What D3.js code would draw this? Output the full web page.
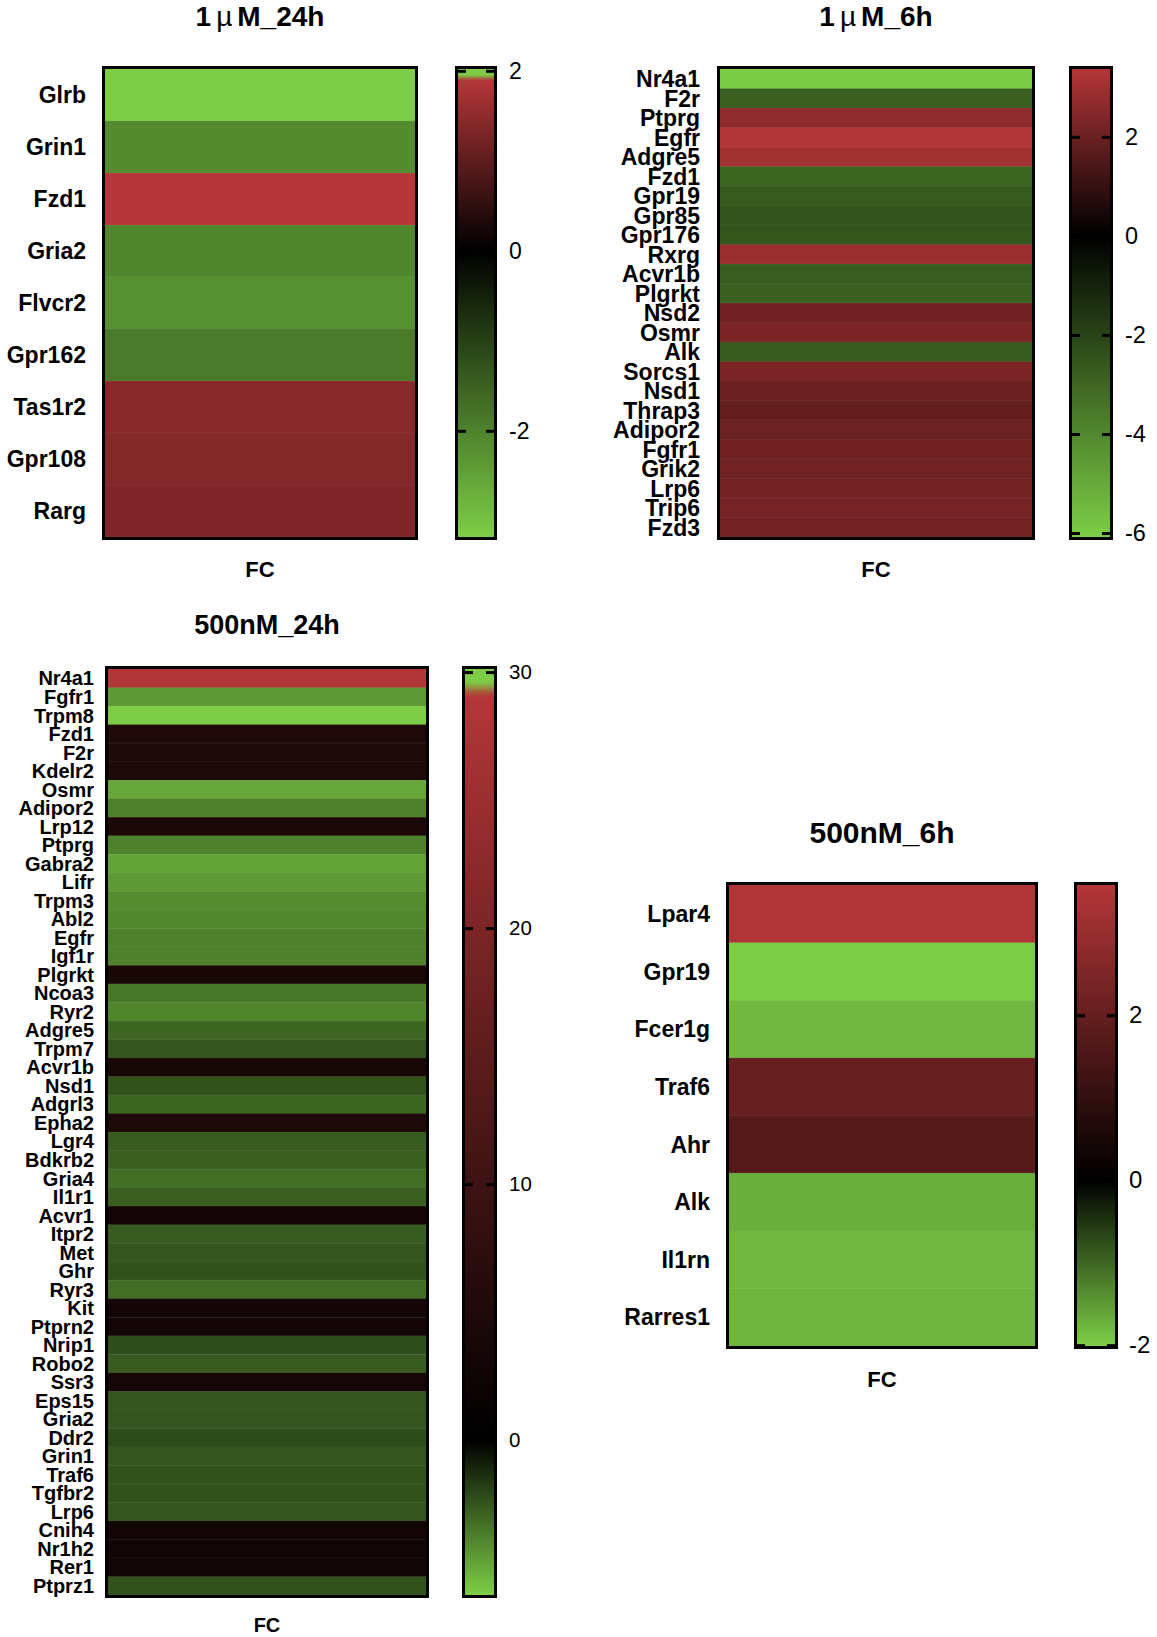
<!DOCTYPE html>
<html>
<head>
<meta charset="utf-8">
<script src="https://cdn.jsdelivr.net/npm/d3@7"></script>
<style>
  html, body { margin: 0; padding: 0; background: #fff; }
  svg { display: block; }
  text { font-family: Arial, "Liberation Sans", Helvetica, sans-serif; fill: #000; }
</style>
</head>
<body>
<svg id="chart" width="1157" height="1637"></svg>
<script>
// ---------------- DATA ----------------
const titles = ["1\u00b5M_24h", "1\u00b5M_6h", "500nM_24h", "500nM_6h"];

const genes1 = ["Glrb", "Grin1", "Fzd1", "Gria2", "Flvcr2", "Gpr162", "Tas1r2", "Gpr108", "Rarg"];
const fc1    = [-3.15, -2.15, 1.9, -2.07, -2.22, -1.9, 1.46, 1.39, 1.35];
const ticks1 = [2, 0, -2];

const genes2 = ["Nr4a1", "F2r", "Ptprg", "Egfr", "Adgre5", "Fzd1", "Gpr19", "Gpr85", "Gpr176", "Rxrg",
                "Acvr1b", "Plgrkt", "Nsd2", "Osmr", "Alk", "Sorcs1", "Nsd1", "Thrap3", "Adipor2", "Fgfr1",
                "Grik2", "Lrp6", "Trip6", "Fzd3"];
const fc2    = [-6.0, -2.8, 2.67, 3.3, 3.03, -3.0, -2.67, -2.5, -2.55, 2.9,
                -2.75, -2.85, 2.09, 2.3, -2.67, 2.3, 2.0, 1.9, 2.03, 2.07,
                2.11, 2.15, 2.2, 2.15];
const ticks2 = [2, 0, -2, -4, -6];

const genes3 = ["Nr4a1", "Fgfr1", "Trpm8", "Fzd1", "F2r", "Kdelr2", "Osmr", "Adipor2", "Lrp12", "Ptprg",
                "Gabra2", "Lifr", "Trpm3", "Abl2", "Egfr", "Igf1r", "Plgrkt", "Ncoa3", "Ryr2", "Adgre5",
                "Trpm7", "Acvr1b", "Nsd1", "Adgrl3", "Epha2", "Lgr4", "Bdkrb2", "Gria4", "Il1r1", "Acvr1",
                "Itpr2", "Met", "Ghr", "Ryr3", "Kit", "Ptprn2", "Nrip1", "Robo2", "Ssr3", "Eps15",
                "Gria2", "Ddr2", "Grin1", "Traf6", "Tgfbr2", "Lrp6", "Cnih4", "Nr1h2", "Rer1", "Ptprz1"];
const fc3    = [28.8, -4.5, -6.0, 5.0, 4.8, 4.8, -4.9, -3.8, 4.5, -3.8,
                -4.8, -4.5, -4.1, -4.0, -3.8, -3.8, 4.0, -3.5, -3.9, -3.0,
                -2.5, 3.8, -2.4, -3.0, 4.8, -2.7, -2.8, -3.2, -2.8, 3.2,
                -2.7, -2.5, -2.4, -3.2, 3.2, 3.2, -2.3, -2.7, 3.5, -2.5,
                -2.5, -2.2, -2.5, -2.4, -2.4, -2.5, 3.2, 2.8, 2.8, -2.4];
const ticks3 = [30, 20, 10, 0];

const genes4 = ["Lpar4", "Gpr19", "Fcer1g", "Traf6", "Ahr", "Alk", "Il1rn", "Rarres1"];
const fc4    = [3.5, -2.0, -1.8, 2.04, 1.74, -1.7, -1.79, -1.77];
const ticks4 = [2, 0, -2];

// colour-scale extents of each legend (low end, high end) and the value where red saturates
const scaleMin = [-3.18, -6.08, -6.05, -2.01];
const scaleMax = [2.02, 3.37, 30.12, 3.58];
const redTop   = [1.9, 3.37, 29.1, 3.58];
const greenCap = [1.95, null, 29.6, null];   // Prism's green over-range band at the top

const axisTitle = "FC";

// ---------------- LAYOUT ----------------
const layout = [
  { box: [102, 66, 418, 540],  cb: [455, 497],  labelX: 86,  labelSize: 23, tickFont: 23, titleY: 26,  titleSize: 28, fcY: 577,  fcSize: 22, pad: 12 },
  { box: [717, 66, 1035, 540], cb: [1069, 1113], labelX: 700, labelSize: 23, tickFont: 23.5, titleY: 26,  titleSize: 28, fcY: 577,  fcSize: 22, pad: 12 },
  { box: [105, 666, 429, 1598], cb: [462, 497], labelX: 94,  labelSize: 20, tickFont: 20.5, titleY: 634, titleSize: 27, fcY: 1632, fcSize: 20, pad: 12 },
  { box: [726, 882, 1038, 1349], cb: [1074, 1118], labelX: 710, labelSize: 23, tickFont: 24, titleY: 843, titleSize: 30, fcY: 1387, fcSize: 22, pad: 11 }
];

const GREEN = "#7dce46", BLACK = "#000000", RED = "#b43638";
const allGenes = [genes1, genes2, genes3, genes4];
const allFc = [fc1, fc2, fc3, fc4];
const allTicks = [ticks1, ticks2, ticks3, ticks4];

const svg = d3.select("#chart");
const defs = svg.append("defs");

layout.forEach((L, i) => {
  const genes = allGenes[i], vals = allFc[i];
  const [x0, y0, x1, y1] = L.box;
  const bw = 3;
  const ix0 = x0 + bw, iy0 = y0 + bw, ix1 = x1 - bw, iy1 = y1 - bw;
  const g = svg.append("g");

  const color = d3.scaleLinear()
    .domain([scaleMin[i], 0, redTop[i]])
    .range([GREEN, BLACK, RED])
    .interpolate(d3.interpolateRgb)
    .clamp(true);

  const legendColor = v => {
    if (greenCap[i] !== null && v > redTop[i]) {
      const t = Math.min(1, (v - redTop[i]) / (greenCap[i] - redTop[i]));
      return d3.interpolateRgb(RED, GREEN)(t);
    }
    return color(v);
  };

  // title
  const cx = (x0 + x1) / 2;
  const parts = titles[i].split("\u00b5");
  const t = g.append("text").attr("x", cx).attr("y", L.titleY)
    .attr("text-anchor", "middle").attr("font-size", L.titleSize).attr("font-weight", "bold");
  if (parts.length === 2) {
    t.append("tspan").text(parts[0]);
    t.append("tspan").attr("dx", 5).attr("font-weight", "normal").text("\u00b5");
    t.append("tspan").attr("dx", 5).text(parts[1]);
  } else {
    t.text(titles[i]);
  }

  // scales
  const y = d3.scaleBand().domain(genes).range([iy0, iy1]).padding(0);
  const x = d3.scaleBand().domain([axisTitle]).range([ix0, ix1]).padding(0);

  // cells
  g.append("g").selectAll("rect").data(genes).join("rect")
    .attr("x", x(axisTitle))
    .attr("y", d => y(d))
    .attr("width", x.bandwidth())
    .attr("height", y.bandwidth() + 0.5)
    .attr("fill", (d, k) => color(vals[k]));

  // faint separators between rows
  g.append("g").selectAll("line").data(genes.slice(1)).join("line")
    .attr("x1", ix0).attr("x2", ix1)
    .attr("y1", d => y(d)).attr("y2", d => y(d))
    .attr("stroke", "#ffffff").attr("stroke-opacity", 0.06).attr("stroke-width", 1);

  // border
  g.append("rect").attr("x", x0 + bw / 2).attr("y", y0 + bw / 2)
    .attr("width", x1 - x0 - bw).attr("height", y1 - y0 - bw)
    .attr("fill", "none").attr("stroke", "#000").attr("stroke-width", bw);

  // row labels
  g.append("g").selectAll("text").data(genes).join("text")
    .attr("x", L.labelX)
    .attr("y", d => y(d) + y.bandwidth() / 2)
    .attr("dy", "0.36em")
    .attr("text-anchor", "end")
    .attr("font-size", L.labelSize)
    .attr("font-weight", "bold")
    .text(d => d);

  // FC label
  g.append("text").attr("x", cx).attr("y", L.fcY)
    .attr("text-anchor", "middle").attr("font-size", L.fcSize).attr("font-weight", "bold")
    .text(axisTitle);

  // colour bar
  const [c0, c1] = L.cb;
  const cy = d3.scaleLinear().domain([scaleMin[i], scaleMax[i]]).range([iy1, iy0]);
  const gid = "grad" + i;
  const grad = defs.append("linearGradient").attr("id", gid)
    .attr("x1", 0).attr("y1", 1).attr("x2", 0).attr("y2", 0);
  const N = 200;
  d3.range(N + 1).forEach(k => {
    const v = scaleMin[i] + (scaleMax[i] - scaleMin[i]) * k / N;
    grad.append("stop").attr("offset", (k / N * 100) + "%").attr("stop-color", legendColor(v));
  });
  g.append("rect").attr("x", c0 + bw).attr("y", iy0)
    .attr("width", c1 - c0 - 2 * bw).attr("height", iy1 - iy0)
    .attr("fill", "url(#" + gid + ")");
  g.append("rect").attr("x", c0 + bw / 2).attr("y", y0 + bw / 2)
    .attr("width", c1 - c0 - bw).attr("height", y1 - y0 - bw)
    .attr("fill", "none").attr("stroke", "#000").attr("stroke-width", bw);

  const axR = d3.axisRight(cy).tickValues(allTicks[i]).tickSizeInner(-8).tickSizeOuter(0)
    .tickPadding(L.pad).tickFormat(d => String(d));
  const gr = g.append("g").attr("transform", `translate(${c1 - bw},0)`).call(axR);
  gr.select(".domain").remove();
  gr.selectAll(".tick line").attr("stroke", "#000").attr("stroke-width", 3);
  gr.selectAll(".tick text").attr("font-size", L.tickFont)
    .attr("font-family", "Arial, 'Liberation Sans', sans-serif").attr("fill", "#000")
    .attr("x", L.pad + bw);

  const axL = d3.axisLeft(cy).tickValues(allTicks[i]).tickSizeInner(-8).tickSizeOuter(0)
    .tickFormat("");
  const gl = g.append("g").attr("transform", `translate(${c0 + bw},0)`).call(axL);
  gl.select(".domain").remove();
  gl.selectAll(".tick line").attr("stroke", "#000").attr("stroke-width", 3);
});
</script>
</body>
</html>
